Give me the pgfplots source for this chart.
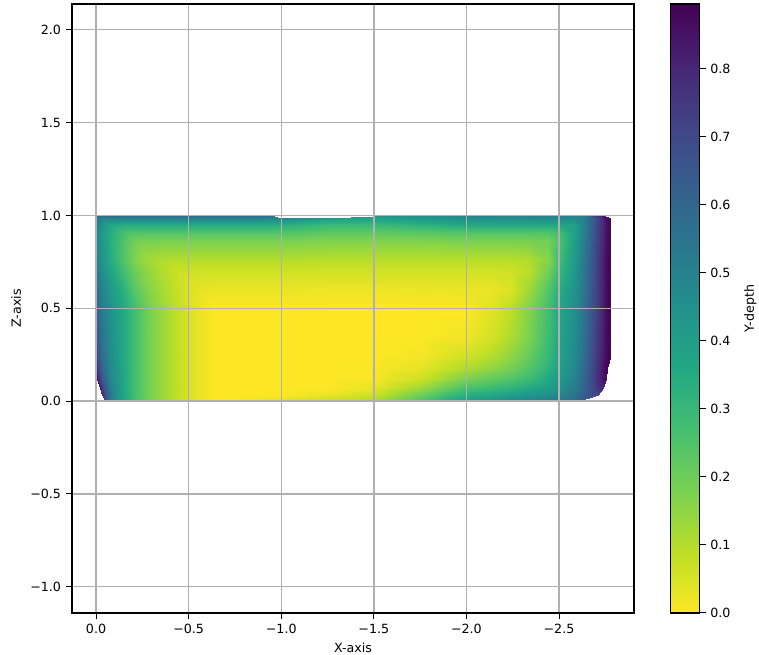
\documentclass[border=0pt]{standalone}
\usepackage{fontspec}
\setmainfont{DejaVu Sans}
\usepackage{pgfplots}
\pgfplotsset{compat=1.18}
\pgfplotsset{colormap={viridisrev}{rgb255=(253,231,37) rgb255=(189,223,38) rgb255=(122,209,81) rgb255=(68,191,112) rgb255=(34,168,132) rgb255=(33,145,140) rgb255=(42,120,142) rgb255=(53,95,141) rgb255=(65,68,135) rgb255=(72,36,117) rgb255=(68,1,84)}}
\definecolor{gridgray}{RGB}{176,176,176}
\begin{document}
\begin{tikzpicture}
\path[use as bounding box] (-54pt,-31.5pt) rectangle (515.25pt,459.75pt);
\begin{axis}[
  at={(0,0)}, anchor=south west,
  scale only axis, width=421.5pt, height=456.75pt,
  xmin=-2.905, xmax=0.13, ymin=-1.142, ymax=2.139,
  x dir=reverse,
  font=\fontsize{9.5}{11}\selectfont,
  xlabel={X-axis}, ylabel={Z-axis},
  xtick={0,-0.5,-1,-1.5,-2,-2.5},
  xticklabels={0.0,−0.5,−1.0,−1.5,−2.0,−2.5},
  ytick={-1,-0.5,0,0.5,1,1.5,2},
  yticklabels={−1.0,−0.5,0.0,0.5,1.0,1.5,2.0},
  tick align=outside, tick pos=lower,
  major tick length=4.7pt,
  every tick/.style={black,line width=0.75pt},
  axis line style={line width=0.85pt},
  grid=major,
  grid style={gridgray,line width=1.05pt},
  axis on top,
  colormap name=viridisrev,
  point meta min=0, point meta max=0.8956,
  colorbar,
  colorbar/width=21.75pt,
  colorbar style={
    at={(parent axis.north east)}, anchor=north west, xshift=18.75pt,
    x dir=normal, xmin=0, xmax=1, grid=none,
    font=\fontsize{9.5}{11}\selectfont,
    ylabel={Y-depth},
    ylabel style={yshift=-3.5pt},
    ytick={0,0.1,0.2,0.3,0.4,0.5,0.6,0.7,0.8},
    yticklabels={0.0,0.1,0.2,0.3,0.4,0.5,0.6,0.7,0.8},
    ytick pos=right, yticklabel pos=right,
    tick align=outside, major tick length=4.7pt,
    axis line style={line width=0.85pt},
  },
]
\addplot[surf, shader=interp, mesh/cols=25, point meta=explicit] coordinates {
(-.05,0)[.72] (-.06,0)[.6] (-.09,0)[.47] (-.15,0)[.36] (-.21,0)[.27] (-.29,0)[.18] (-.44,0)[.08] (-.55,0)[.03] (-.65,0)[0] (-.8,0)[.01] (-1,0)[.05] (-1.25,0)[.08] (-1.5,0)[.12] (-1.75,0)[.25] (-2,0)[.4] (-2.14,0)[.43] (-2.24,0)[.47] (-2.34,0)[.5] (-2.44,0)[.52] (-2.5,0)[.55] (-2.58,0)[.58] (-2.59,0)[.6] (-2.6,0)[.62] (-2.605,0)[.62] (-2.61,0)[.62]
(-.03,.03)[.8] (-.05,.03)[.68] (-.085,.03)[.5] (-.15,.03)[.37] (-.21,.03)[.27] (-.29,.03)[.18] (-.44,.03)[.08] (-.55,.03)[.03] (-.65,.03)[0] (-.8,.03)[0] (-1,.03)[0] (-1.25,.03)[.03] (-1.5,.03)[.07] (-1.75,.03)[.2] (-2,.03)[.34] (-2.14,.03)[.37] (-2.24,.03)[.4] (-2.34,.03)[.43] (-2.44,.03)[.46] (-2.5,.03)[.5] (-2.58,.03)[.56] (-2.63,.03)[.62] (-2.68,.03)[.7] (-2.7,.03)[.7] (-2.71,.03)[.68]
(-.02,.07)[.83] (-.04,.07)[.7] (-.08,.07)[.5] (-.15,.07)[.36] (-.21,.07)[.27] (-.29,.07)[.18] (-.44,.07)[.08] (-.55,.07)[.03] (-.65,.07)[0] (-.8,.07)[0] (-1,.07)[0] (-1.25,.07)[0] (-1.5,.07)[.03] (-1.75,.07)[.13] (-2,.07)[.26] (-2.14,.07)[.29] (-2.24,.07)[.32] (-2.34,.07)[.36] (-2.44,.07)[.4] (-2.5,.07)[.45] (-2.58,.07)[.52] (-2.63,.07)[.6] (-2.7,.07)[.74] (-2.73,.07)[.8] (-2.74,.07)[.78]
(-.005,.12)[.85] (-.03,.12)[.65] (-.08,.12)[.48] (-.15,.12)[.36] (-.21,.12)[.27] (-.29,.12)[.18] (-.44,.12)[.08] (-.55,.12)[.03] (-.65,.12)[0] (-.8,.12)[0] (-1,.12)[0] (-1.25,.12)[0] (-1.5,.12)[.005] (-1.75,.12)[.07] (-2,.12)[.18] (-2.14,.12)[.22] (-2.24,.12)[.25] (-2.34,.12)[.29] (-2.44,.12)[.36] (-2.5,.12)[.42] (-2.58,.12)[.5] (-2.63,.12)[.59] (-2.7,.12)[.76] (-2.75,.12)[.87] (-2.755,.12)[.85]
(0,.18)[.8] (-.03,.18)[.6] (-.08,.18)[.47] (-.15,.18)[.36] (-.21,.18)[.27] (-.29,.18)[.18] (-.44,.18)[.08] (-.55,.18)[.03] (-.65,.18)[0] (-.8,.18)[0] (-1,.18)[0] (-1.25,.18)[0] (-1.5,.18)[.005] (-1.75,.18)[.03] (-2,.18)[.11] (-2.14,.18)[.15] (-2.24,.18)[.19] (-2.34,.18)[.24] (-2.44,.18)[.32] (-2.5,.18)[.39] (-2.58,.18)[.48] (-2.63,.18)[.57] (-2.7,.18)[.75] (-2.75,.18)[.88] (-2.76,.18)[.89]
(0,.25)[.72] (-.03,.25)[.57] (-.08,.25)[.46] (-.15,.25)[.35] (-.21,.25)[.27] (-.29,.25)[.18] (-.44,.25)[.08] (-.55,.25)[.03] (-.65,.25)[0] (-.8,.25)[0] (-1,.25)[0] (-1.25,.25)[0] (-1.5,.25)[0] (-1.75,.25)[.01] (-2,.25)[.06] (-2.14,.25)[.1] (-2.24,.25)[.15] (-2.34,.25)[.21] (-2.44,.25)[.3] (-2.5,.25)[.38] (-2.58,.25)[.47] (-2.63,.25)[.56] (-2.7,.25)[.74] (-2.76,.25)[.88] (-2.78,.25)[.89]
(0,.35)[.68] (-.03,.35)[.55] (-.08,.35)[.45] (-.15,.35)[.35] (-.21,.35)[.27] (-.29,.35)[.18] (-.44,.35)[.08] (-.55,.35)[.03] (-.65,.35)[0] (-.8,.35)[0] (-1,.35)[0] (-1.25,.35)[0] (-1.5,.35)[0] (-1.75,.35)[0] (-2,.35)[.015] (-2.14,.35)[.06] (-2.24,.35)[.11] (-2.34,.35)[.18] (-2.44,.35)[.28] (-2.5,.35)[.37] (-2.58,.35)[.46] (-2.63,.35)[.55] (-2.7,.35)[.73] (-2.76,.35)[.88] (-2.78,.35)[.89]
(0,.5)[.62] (-.03,.5)[.52] (-.08,.5)[.44] (-.15,.5)[.35] (-.21,.5)[.27] (-.29,.5)[.18] (-.44,.5)[.08] (-.55,.5)[.03] (-.65,.5)[0] (-.8,.5)[0] (-1,.5)[0] (-1.25,.5)[0] (-1.5,.5)[0] (-1.75,.5)[0] (-2,.5)[0] (-2.14,.5)[.04] (-2.24,.5)[.09] (-2.34,.5)[.17] (-2.44,.5)[.27] (-2.5,.5)[.36] (-2.58,.5)[.45] (-2.63,.5)[.54] (-2.7,.5)[.72] (-2.76,.5)[.88] (-2.78,.5)[.89]
(0,.6)[.58] (-.03,.6)[.49] (-.08,.6)[.41] (-.15,.6)[.32] (-.21,.6)[.23] (-.29,.6)[.16] (-.44,.6)[.075] (-.55,.6)[.035] (-.65,.6)[.025] (-.8,.6)[.025] (-1,.6)[.025] (-1.25,.6)[.022] (-1.5,.6)[.022] (-1.75,.6)[.023] (-2,.6)[.025] (-2.14,.6)[.025] (-2.24,.6)[.05] (-2.34,.6)[.13] (-2.44,.6)[.24] (-2.5,.6)[.34] (-2.58,.6)[.44] (-2.63,.6)[.54] (-2.7,.6)[.72] (-2.76,.6)[.88] (-2.78,.6)[.89]
(0,.7)[.55] (-.03,.7)[.46] (-.08,.7)[.37] (-.15,.7)[.27] (-.21,.7)[.2] (-.29,.7)[.14] (-.44,.7)[.07] (-.55,.7)[.065] (-.65,.7)[.065] (-.8,.7)[.065] (-1,.7)[.065] (-1.25,.7)[.06] (-1.5,.7)[.06] (-1.75,.7)[.06] (-2,.7)[.06] (-2.14,.7)[.06] (-2.24,.7)[.065] (-2.34,.7)[.09] (-2.44,.7)[.19] (-2.5,.7)[.3] (-2.58,.7)[.42] (-2.63,.7)[.53] (-2.7,.7)[.71] (-2.76,.7)[.88] (-2.78,.7)[.89]
(0,.76)[.52] (-.03,.76)[.43] (-.08,.76)[.34] (-.15,.76)[.24] (-.21,.76)[.17] (-.29,.76)[.12] (-.44,.76)[.1] (-.55,.76)[.1] (-.65,.76)[.1] (-.8,.76)[.1] (-1,.76)[.1] (-1.25,.76)[.095] (-1.5,.76)[.095] (-1.75,.76)[.095] (-2,.76)[.095] (-2.14,.76)[.095] (-2.24,.76)[.095] (-2.34,.76)[.105] (-2.44,.76)[.16] (-2.5,.76)[.28] (-2.58,.76)[.41] (-2.63,.76)[.52] (-2.7,.76)[.71] (-2.76,.76)[.88] (-2.78,.76)[.89]
(0,.86)[.5] (-.03,.86)[.42] (-.08,.86)[.33] (-.15,.86)[.25] (-.21,.86)[.19] (-.29,.86)[.18] (-.44,.86)[.18] (-.55,.86)[.18] (-.65,.86)[.18] (-.8,.86)[.18] (-1,.86)[.18] (-1.25,.86)[.17] (-1.5,.86)[.17] (-1.75,.86)[.17] (-2,.86)[.18] (-2.14,.86)[.18] (-2.24,.86)[.18] (-2.34,.86)[.18] (-2.44,.86)[.19] (-2.5,.86)[.25] (-2.58,.86)[.39] (-2.63,.86)[.51] (-2.7,.86)[.7] (-2.76,.86)[.87] (-2.78,.86)[.89]
(0,.905)[.5] (-.03,.905)[.41] (-.08,.905)[.34] (-.15,.905)[.26] (-.21,.905)[.24] (-.29,.905)[.24] (-.44,.905)[.24] (-.55,.905)[.24] (-.65,.905)[.24] (-.8,.905)[.24] (-1,.905)[.24] (-1.25,.905)[.22] (-1.5,.905)[.22] (-1.75,.905)[.23] (-2,.905)[.24] (-2.14,.905)[.24] (-2.24,.905)[.24] (-2.34,.905)[.24] (-2.44,.905)[.24] (-2.5,.905)[.27] (-2.58,.905)[.38] (-2.63,.905)[.5] (-2.7,.905)[.7] (-2.76,.905)[.87] (-2.78,.905)[.89]
(0,.95)[.52] (-.03,.95)[.44] (-.08,.95)[.36] (-.15,.95)[.34] (-.21,.95)[.34] (-.29,.95)[.34] (-.44,.95)[.34] (-.55,.95)[.34] (-.65,.95)[.34] (-.8,.95)[.34] (-1,.95)[.33] (-1.25,.95)[.29] (-1.5,.95)[.29] (-1.75,.95)[.32] (-2,.95)[.35] (-2.14,.95)[.35] (-2.24,.95)[.35] (-2.34,.95)[.35] (-2.44,.95)[.35] (-2.5,.95)[.36] (-2.58,.95)[.38] (-2.63,.95)[.49] (-2.7,.95)[.69] (-2.76,.95)[.86] (-2.78,.95)[.89]
(0,.985)[.56] (-.03,.985)[.5] (-.08,.985)[.5] (-.15,.985)[.5] (-.21,.985)[.5] (-.29,.985)[.5] (-.44,.985)[.5] (-.55,.985)[.5] (-.65,.985)[.5] (-.8,.985)[.5] (-1,.975)[.42] (-1.25,.975)[.36] (-1.5,.985)[.38] (-1.75,.985)[.42] (-2,.985)[.46] (-2.14,.985)[.46] (-2.24,.985)[.47] (-2.34,.985)[.47] (-2.44,.985)[.48] (-2.5,.985)[.48] (-2.58,.985)[.48] (-2.63,.985)[.5] (-2.7,.985)[.68] (-2.75,.985)[.85] (-2.775,.985)[.88]
(0,1)[.63] (-.03,1)[.62] (-.08,1)[.62] (-.15,1)[.62] (-.21,1)[.62] (-.29,1)[.62] (-.44,1)[.62] (-.55,1)[.62] (-.65,1)[.62] (-.95,1)[.6] (-.99,.985)[.5] (-1.25,.987)[.42] (-1.5,.995)[.42] (-1.75,1)[.46] (-2,1)[.5] (-2.14,1)[.5] (-2.24,1)[.5] (-2.34,1)[.5] (-2.44,1)[.5] (-2.5,1)[.5] (-2.58,1)[.5] (-2.63,1)[.52] (-2.66,1)[.66] (-2.72,1)[.8] (-2.74,1)[.85]
};
\end{axis}
\end{tikzpicture}
\end{document}
